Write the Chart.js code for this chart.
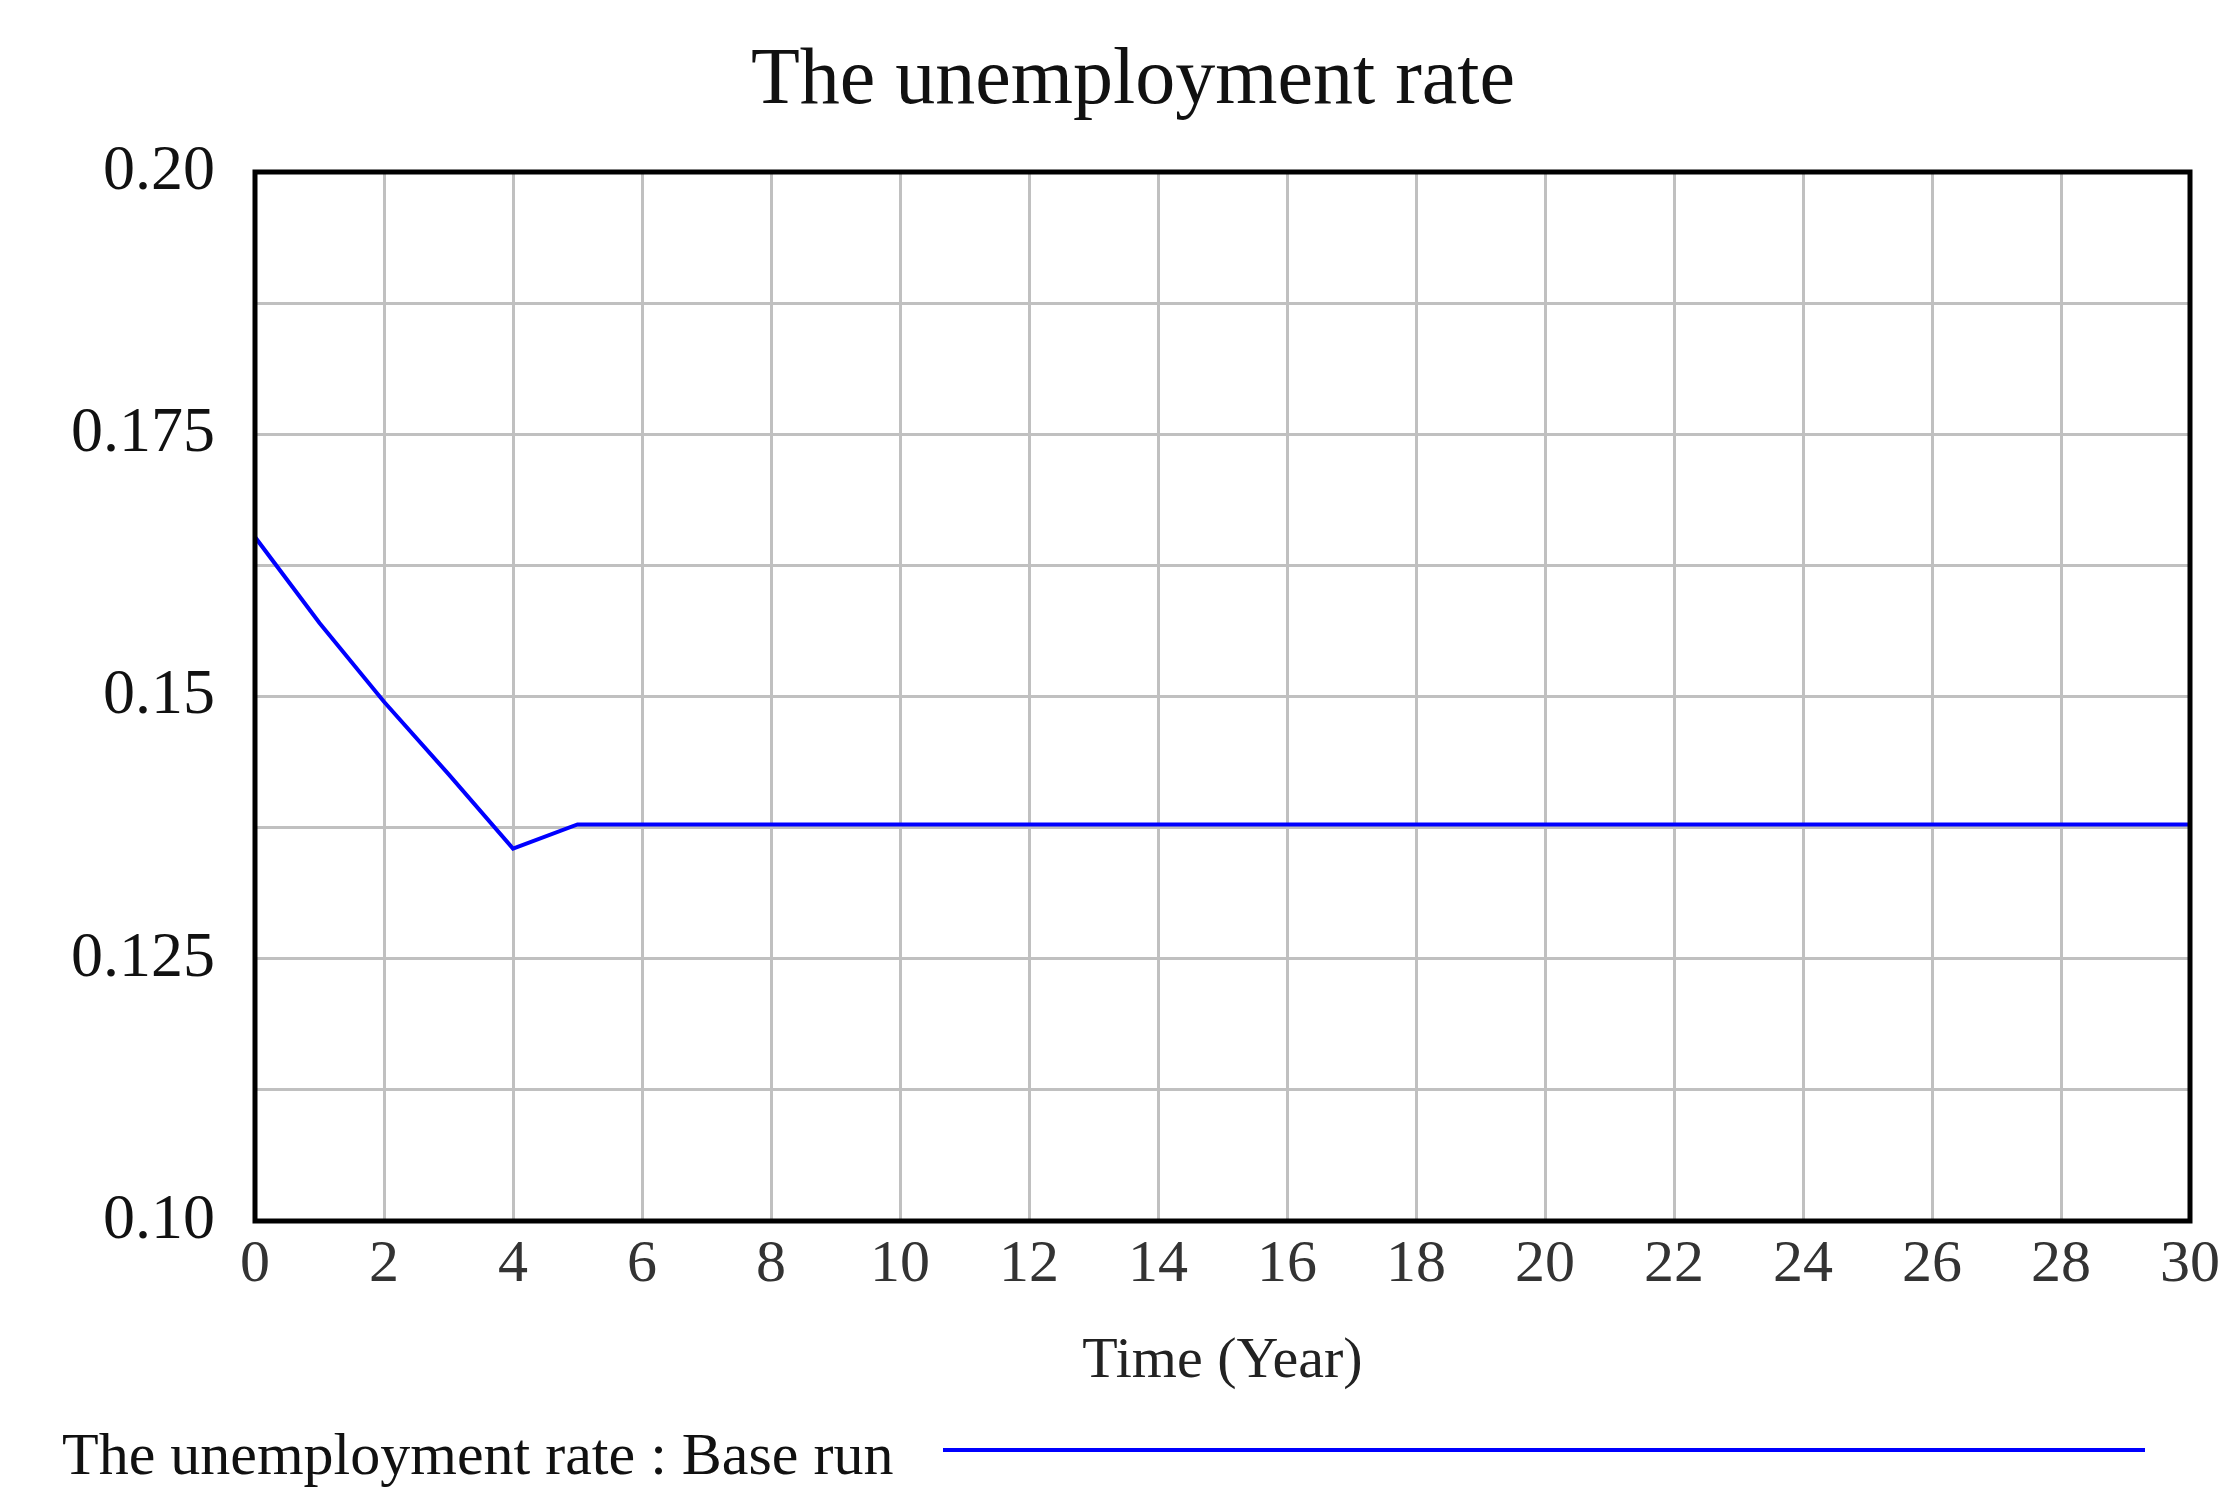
<!DOCTYPE html>
<html><head><meta charset="utf-8">
<script src="https://cdn.jsdelivr.net/npm/chart.js@4"></script>
<style>html,body{margin:0;background:#fff}#c{display:block}</style>
</head><body>
<div style="width:2235px;height:1500px"><canvas id="c"></canvas></div>
<script>
// series
var years = [0,1,2,3,4,5,6,8,10,12,14,16,18,20,22,24,26,28,30];
var rate = [0.1652,0.157,0.1495,0.1426,0.1355,0.1378,0.1378,0.1378,0.1378,0.1378,0.1378,0.1378,0.1378,0.1378,0.1378,0.1378,0.1378,0.1378,0.1378];
var yLabels = ['0.10','0.125','0.15','0.175','0.20'];
var chartTitle = 'The unemployment rate';
var legendText = 'The unemployment rate : Base run';

var serif = '"Liberation Serif", "DejaVu Serif", serif';

var extras = {
  id: 'extras',
  afterDraw: function(chart){
    var c = chart.ctx, a = chart.chartArea;
    c.save();
    c.strokeStyle = '#000'; c.lineWidth = 5;
    c.strokeRect(a.left, a.top, a.right - a.left, a.bottom - a.top);
    c.fillStyle = '#111';
    c.font = '80px ' + serif;
    c.textAlign = 'center'; c.textBaseline = 'middle';
    c.fillText(chartTitle, 1133, 82);
    c.font = '60px ' + serif;
    c.textAlign = 'left';
    c.fillText(legendText, 62, 1458);
    c.strokeStyle = '#0000ff'; c.lineWidth = 4;
    c.beginPath(); c.moveTo(943, 1450); c.lineTo(2145, 1450); c.stroke();
    c.restore();
  }
};

new Chart(document.getElementById('c'), {
  type: 'line',
  data: { datasets: [{
    data: years.map(function(x, i){ return {x: x, y: rate[i]}; }),
    borderColor: '#0000ff', borderWidth: 4, pointRadius: 0, tension: 0, fill: false
  }]},
  options: {
    responsive: true, maintainAspectRatio: false, animation: false,
    layout: { padding: { left: 0, right: 45, top: 172, bottom: 99 } },
    plugins: { legend: { display: false }, title: { display: false }, tooltip: { enabled: false } },
    scales: {
      x: {
        type: 'linear', min: 0, max: 30,
        ticks: { stepSize: 2, color: '#333', font: { family: serif, size: 60 }, padding: 8, maxRotation: 0 },
        grid: { color: '#c0c0c0', lineWidth: 3, drawTicks: false },
        border: { display: false },
        title: { display: true, text: 'Time (Year)', color: '#222', font: { family: serif, size: 58 }, padding: { top: 0 } },
        afterFit: function(s){ s.height = 180; }
      },
      y: {
        min: 0.1, max: 0.2,
        ticks: {
          stepSize: 0.0125, color: '#111', font: { family: serif, size: 64 }, padding: 40,
          callback: function(v, i){ return i % 2 === 0 ? yLabels[i / 2] : ''; }
        },
        grid: { color: '#c0c0c0', lineWidth: 3, drawTicks: false },
        border: { display: false },
        afterFit: function(s){ s.width = 255; }
      }
    }
  },
  plugins: [extras]
});
</script>
</body></html>
